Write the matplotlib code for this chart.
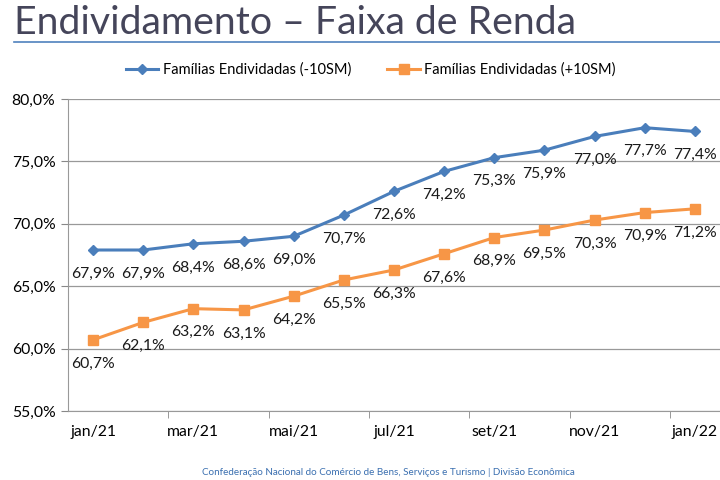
import matplotlib.pyplot as plt
from matplotlib.ticker import FuncFormatter


months = ["jan/21", "fev/21", "mar/21", "abr/21", "mai/21", "jun/21", "jul/21",
          "ago/21", "set/21", "out/21", "nov/21", "dez/21", "jan/22"]
low_income = [67.9, 67.9, 68.4, 68.6, 69.0, 70.7, 72.6, 74.2, 75.3, 75.9, 77.0, 77.7, 77.4]
high_income = [60.7, 62.1, 63.2, 63.1, 64.2, 65.5, 66.3, 67.6, 68.9, 69.5, 70.3, 70.9, 71.2]

BLUE = "#4A7EBB"
ORANGE = "#F79646"
FONT = ["Lato", "DejaVu Sans"]


def pct(v):
    return f"{v:.1f}%".replace(".", ",")


def main():
    plt.rcParams["font.family"] = FONT
    fig = plt.figure(figsize=(7.2, 4.8), dpi=100)
    ax = fig.add_axes([0.0944, 0.14375, 0.9056, 0.65])

    x = list(range(len(months)))
    ax.plot(x, low_income, color=BLUE, lw=2.2, marker="D", ms=5.5,
            label="Famílias Endividadas (-10SM)")
    ax.plot(x, high_income, color=ORANGE, lw=2.2, marker="s", ms=6.5,
            label="Famílias Endividadas (+10SM)")

    for xi, v in zip(x, low_income):
        ax.annotate(pct(v), (xi, v), xytext=(0, -12), textcoords="offset points",
                    ha="center", va="top", fontsize=11.3, color="#1a1a1a")
    for xi, v in zip(x, high_income):
        ax.annotate(pct(v), (xi, v), xytext=(0, -12), textcoords="offset points",
                    ha="center", va="top", fontsize=11.3, color="#1a1a1a")

    ax.set_xlim(-0.5, len(months) - 0.5)
    ax.set_ylim(55, 80)
    ax.set_yticks([55, 60, 65, 70, 75, 80])
    ax.yaxis.set_major_formatter(FuncFormatter(lambda v, _: pct(v)))
    ax.set_xticks(x[::2])
    ax.set_xticklabels(months[::2])
    ax.set_xticks([i + 0.5 for i in range(1, 12, 2)], minor=True)
    ax.tick_params(axis="x", which="major", length=0, pad=10, labelsize=11.3)
    ax.tick_params(axis="x", which="minor", length=5, color="#888888")
    ax.tick_params(axis="y", length=5, color="#888888", labelsize=11.3, pad=4)

    ax.grid(axis="y", color="#999999", lw=0.9)
    ax.set_axisbelow(True)
    for side in ["top", "right"]:
        ax.spines[side].set_visible(False)
    ax.spines["left"].set_color("#999999")
    ax.spines["bottom"].set_color("#999999")

    fig.legend(loc="center", bbox_to_anchor=(0.515, 0.855), ncol=2, frameon=False,
               fontsize=10.5, handlelength=2.2, handletextpad=0.3, columnspacing=2.5)

    fig.text(0.02, 0.952, "Endividamento – Faixa de Renda", fontsize=28.3,
             color="#45455a", va="center", ha="left")
    fig.add_artist(plt.Line2D([0.02, 1.0], [0.912, 0.912], color="#4F81BD", lw=1.2))
    fig.text(0.54, 0.015, "Confederação Nacional do Comércio de Bens, Serviços e Turismo | Divisão Econômica",
             fontsize=7.1, color="#3a6fb0", ha="center", va="center")

    fig.savefig("out.png", dpi=100)
    plt.close(fig)


if __name__ == "__main__":
    main()
